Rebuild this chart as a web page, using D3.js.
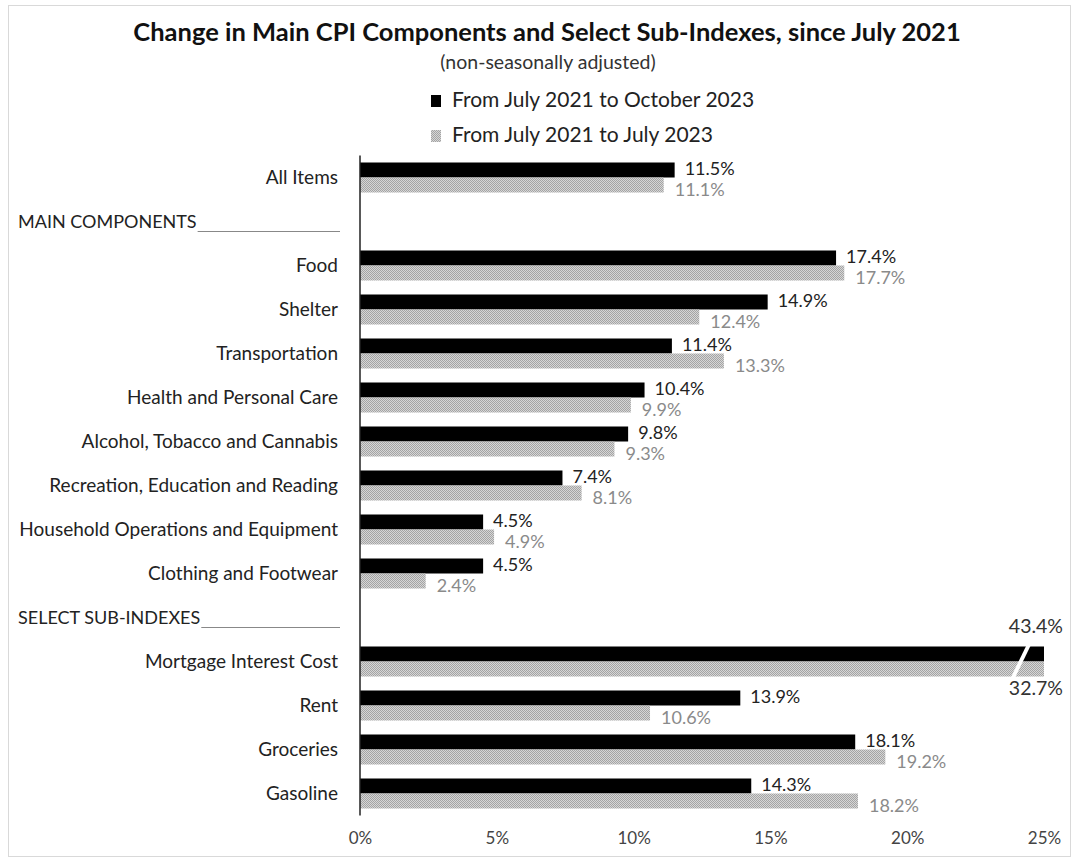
<!DOCTYPE html>
<html>
<head>
<meta charset="utf-8">
<script src="https://cdn.jsdelivr.net/npm/d3@7"></script>
<style>
  body { margin: 0; background: #fff; }
  svg text { font-family: Lato, "Open Sans", sans-serif; }
</style>
</head>
<body>
<svg id="chart" width="1079" height="862"></svg>
<script>
// Rows of the chart, top to bottom (section headers carry no bars)
const categories = [
  "All Items",
  "MAIN COMPONENTS",
  "Food",
  "Shelter",
  "Transportation",
  "Health and Personal Care",
  "Alcohol, Tobacco and Cannabis",
  "Recreation, Education and Reading",
  "Household Operations and Equipment",
  "Clothing and Footwear",
  "SELECT SUB-INDEXES",
  "Mortgage Interest Cost",
  "Rent",
  "Groceries",
  "Gasoline"
];
const sectionHeaders = ["MAIN COMPONENTS", "SELECT SUB-INDEXES"];

// Percent change since July 2021
const toOct2023 = [11.5, null, 17.4, 14.9, 11.4, 10.4, 9.8, 7.4, 4.5, 4.5, null, 43.4, 13.9, 18.1, 14.3];
const toJul2023 = [11.1, null, 17.7, 12.4, 13.3, 9.9, 9.3, 8.1, 4.9, 2.4, null, 32.7, 10.6, 19.2, 18.2];

const seriesNames = ["From July 2021 to October 2023", "From July 2021 to July 2023"];
const xTicks = [0, 5, 10, 15, 20, 25];
const axisMax = 25;

const titleText = "Change in Main CPI Components and Select Sub-Indexes, since July 2021";
const subtitleText = "(non-seasonally adjusted)";

const svg = d3.select("#chart");

// Light textured fill for the second series
const defs = svg.append("defs");
const pat = defs.append("pattern")
  .attr("id", "dots").attr("width", 2).attr("height", 2)
  .attr("patternUnits", "userSpaceOnUse");
pat.append("rect").attr("width", 2).attr("height", 2).attr("fill", "#d6d6d6");
pat.append("rect").attr("width", 1).attr("height", 1).attr("fill", "#a4a4a4");
pat.append("rect").attr("x", 1).attr("y", 1).attr("width", 1).attr("height", 1).attr("fill", "#a4a4a4");

// Outer frame
svg.append("rect")
  .attr("x", 8.5).attr("y", 5.5).attr("width", 1062).attr("height", 851)
  .attr("fill", "none").attr("stroke", "#d9d9d9").attr("stroke-width", 1);

// Title block
svg.append("text")
  .attr("x", 547).attr("y", 34)
  .attr("text-anchor", "middle").attr("dominant-baseline", "middle")
  .attr("font-size", 25.5).attr("font-weight", "bold").attr("fill", "#111")
  .text(titleText);
svg.append("text")
  .attr("x", 548).attr("y", 64)
  .attr("text-anchor", "middle").attr("dominant-baseline", "middle")
  .attr("font-size", 19.5).attr("fill", "#333")
  .text(subtitleText);

// Legend
const legendFill = ["#000", "url(#dots)"];
seriesNames.forEach((name, i) => {
  const cy = 101 + i * 35;
  svg.append("rect")
    .attr("x", 431).attr("y", cy - 6).attr("width", 10).attr("height", 12)
    .attr("fill", legendFill[i]);
  svg.append("text")
    .attr("x", 452).attr("y", cy + 1)
    .attr("dominant-baseline", "middle")
    .attr("font-size", 21).attr("fill", "#222")
    .text(name);
});

// Scales
const x = d3.scaleLinear().domain([0, axisMax]).range([360, 1044]);
const y = d3.scaleBand().domain(categories).range([155.5, 815.5])
  .paddingInner(14 / 44).paddingOuter(7 / 44);
const barH = y.bandwidth() / 2;

// Category labels and section headers
categories.forEach(c => {
  const cy = y(c) + y.bandwidth() / 2 + 2;
  if (sectionHeaders.includes(c)) {
    const t = svg.append("text")
      .attr("x", 18).attr("y", cy)
      .attr("dominant-baseline", "middle")
      .attr("font-size", 18).attr("fill", "#222")
      .text(c);
    const w = t.node().getComputedTextLength();
    svg.append("line")
      .attr("x1", 18 + w + 1).attr("x2", 340)
      .attr("y1", cy + 8).attr("y2", cy + 8)
      .attr("stroke", "#888").attr("stroke-width", 1);
  } else {
    svg.append("text")
      .attr("x", 338).attr("y", cy)
      .attr("text-anchor", "end").attr("dominant-baseline", "middle")
      .attr("font-size", 19).attr("fill", "#222")
      .text(c);
  }
});

// Bars
const rows = categories.map((c, i) => ({ c, a: toOct2023[i], b: toJul2023[i] }))
  .filter(d => d.a !== null);

const g = svg.append("g");
g.selectAll("rect.oct").data(rows).join("rect")
  .attr("class", "oct")
  .attr("x", x(0)).attr("y", d => y(d.c))
  .attr("width", d => x(Math.min(d.a, axisMax)) - x(0)).attr("height", barH)
  .attr("fill", "#000");
g.selectAll("rect.jul").data(rows).join("rect")
  .attr("class", "jul")
  .attr("x", x(0)).attr("y", d => y(d.c) + barH)
  .attr("width", d => x(Math.min(d.b, axisMax)) - x(0)).attr("height", barH)
  .attr("fill", "url(#dots)");

// Value labels
const fmt = v => v.toFixed(1) + "%";
rows.forEach(d => {
  const top = y(d.c);
  if (d.a > axisMax || d.b > axisMax) {
    // Bars run past the axis: mark the break and put labels above / below
    const xe = x(axisMax);
    svg.append("line")
      .attr("x1", xe - 15).attr("y1", top - 2)
      .attr("x2", xe - 32).attr("y2", top + 2 * barH + 3)
      .attr("stroke", "#fff").attr("stroke-width", 4);
    svg.append("text")
      .attr("x", 1063).attr("y", top - 18)
      .attr("text-anchor", "end").attr("dominant-baseline", "middle")
      .attr("font-size", 19.5).attr("fill", "#333")
      .text(fmt(d.a));
    svg.append("text")
      .attr("x", 1063).attr("y", top + 2 * barH + 14)
      .attr("text-anchor", "end").attr("dominant-baseline", "middle")
      .attr("font-size", 19.5).attr("fill", "#333")
      .text(fmt(d.b));
    return;
  }
  svg.append("text")
    .attr("x", x(d.a) + 10).attr("y", top + barH / 2)
    .attr("dominant-baseline", "middle")
    .attr("font-size", 18).attr("fill", "#222")
    .text(fmt(d.a));
  svg.append("text")
    .attr("x", x(d.b) + 11).attr("y", top + barH * 1.5 + 6)
    .attr("dominant-baseline", "middle")
    .attr("font-size", 18).attr("fill", "#8a8a8a")
    .text(fmt(d.b));
});

// Category axis line
svg.append("line")
  .attr("x1", x(0)).attr("x2", x(0))
  .attr("y1", y.range()[0]).attr("y2", y.range()[1])
  .attr("stroke", "#222").attr("stroke-width", 1.5);

// Value axis tick labels
const axis = svg.append("g")
  .attr("transform", `translate(0, 829)`)
  .call(d3.axisBottom(x).tickValues(xTicks).tickSize(0).tickFormat(d => d + "%"));
axis.select(".domain").remove();
axis.selectAll("text")
  .attr("font-size", 17).attr("fill", "#444")
  .attr("font-family", "Lato, 'Open Sans', sans-serif");
</script>
</body>
</html>
